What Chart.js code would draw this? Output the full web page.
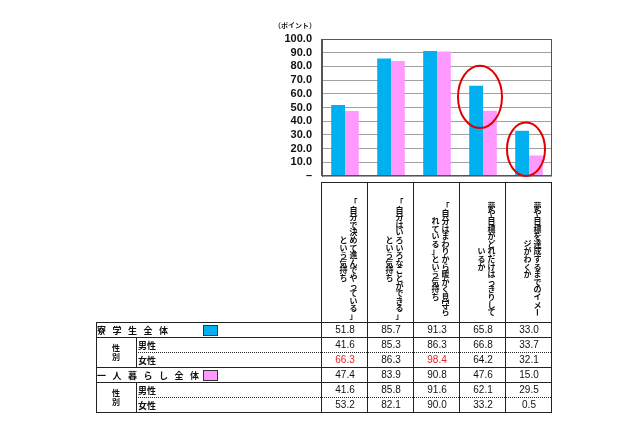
<!DOCTYPE html>
<html lang="ja">
<head>
<meta charset="utf-8">
<script src="https://cdn.jsdelivr.net/npm/chart.js@4.4.1/dist/chart.umd.min.js"></script>
<style>
  html, body { margin: 0; padding: 0; background: #fff; }
  canvas { display: block; }
</style>
</head>
<body>
<canvas id="chart" width="640" height="426"></canvas>
<script>
// header text of each category, split as in the table (right column first)
const categoryLines = [
  ['「自分で決めて進んでやっている」', 'という気持ち'],
  ['「自分はいろいろなことができる」', 'という気持ち'],
  ['「自分はまわりから暖かく見守ら', 'れている」という気持ち'],
  ['夢や目標がどれだけはっきりして', 'いるか'],
  ['夢や目標を達成するまでのイメー', 'ジがわくか']
];
const categories = categoryLines.map(l => l.join(''));

const dormAll = [51.8, 85.7, 91.3, 65.8, 33.0];
const dormMale = [41.6, 85.3, 86.3, 66.8, 33.7];
const dormFemale = [66.3, 86.3, 98.4, 64.2, 32.1];
const dormFemaleRed = [0, 2];
const aloneAll = [47.4, 83.9, 90.8, 47.6, 15.0];
const aloneMale = [41.6, 85.8, 91.6, 62.1, 29.5];
const aloneFemale = [53.2, 82.1, 90.0, 33.2, 0.5];

const yTicks = [0, 10, 20, 30, 40, 50, 60, 70, 80, 90, 100];

const JP = '"Noto Sans CJK JP", sans-serif';
const NUM = '"Liberation Sans", Arial, sans-serif';

function drawVertical(ctx, text, x, cy, step) {
  const chars = [...text];
  let y = cy - (chars.length - 1) * step / 2;
  for (const ch of chars) {
    ctx.save();
    ctx.translate(x, y);
    if (ch === 'ー') ctx.rotate(Math.PI / 2);
    ctx.fillText(ch, 0, 0);
    ctx.restore();
    y += step;
  }
}

function hline(ctx, x1, x2, y, dotted) {
  ctx.save();
  if (dotted) ctx.setLineDash([1, 1]);
  ctx.beginPath();
  ctx.moveTo(x1, y + 0.5);
  ctx.lineTo(x2, y + 0.5);
  ctx.stroke();
  ctx.restore();
}
function vline(ctx, x, y1, y2) {
  ctx.beginPath();
  ctx.moveTo(x + 0.5, y1);
  ctx.lineTo(x + 0.5, y2);
  ctx.stroke();
}

const tablePlugin = {
  id: 'table',
  afterDraw(chart) {
    const ctx = chart.ctx;
    const xs = chart.scales.x, ys = chart.scales.y;
    const area = chart.chartArea;
    const n = categories.length;
    const cw = (area.right - area.left) / n;
    const colEdge = i => Math.round(area.left + i * cw) - 1;

    // plot frame
    ctx.save();
    ctx.strokeStyle = '#555';
    ctx.lineWidth = 1;
    ctx.strokeRect(Math.round(area.left) - 0.5, Math.round(area.top) + 0.5,
      Math.round(area.right - area.left), Math.round(area.bottom - area.top) - 1);
    ctx.restore();

    // red ellipses
    const marks = [
      { index: 3, from: 35, to: 80.5, dx: -3, rx: 22 },
      { index: 4, from: 0, to: 39, dx: -3, rx: 19 }
    ];
    ctx.save();
    ctx.strokeStyle = '#e00000';
    ctx.lineWidth = 2;
    marks.forEach(m => {
      const cx = xs.getPixelForValue(m.index) + m.dx;
      const y1 = ys.getPixelForValue(m.to), y2 = ys.getPixelForValue(m.from);
      ctx.beginPath();
      ctx.ellipse(cx, (y1 + y2) / 2, m.rx, (y2 - y1) / 2, 0, 0, Math.PI * 2);
      ctx.stroke();
    });
    ctx.restore();

    // table
    const headTop = Math.round(area.bottom) + 6;
    const rowTop = 322;
    const rowH = 15;
    const left = 96, sub = 136, right = colEdge(n);
    ctx.save();
    ctx.strokeStyle = '#222';
    ctx.lineWidth = 1;
    hline(ctx, colEdge(0), right, headTop);
    for (let i = 0; i <= n; i++) vline(ctx, colEdge(i), headTop, rowTop + 6 * rowH + 1);
    [0, 1, 3, 4, 6].forEach(r => hline(ctx, left, right, rowTop + r * rowH));
    [2, 5].forEach(r => hline(ctx, sub, right, rowTop + r * rowH, true));
    vline(ctx, left, rowTop, rowTop + 6 * rowH + 1);
    vline(ctx, sub, rowTop + rowH, rowTop + 3 * rowH);
    vline(ctx, sub, rowTop + 4 * rowH, rowTop + 6 * rowH);

    // vertical headers
    ctx.fillStyle = '#111';
    ctx.font = 'bold 8px ' + JP;
    ctx.textAlign = 'center';
    ctx.textBaseline = 'middle';
    const headMid = (headTop + rowTop) / 2 + 7;
    categoryLines.forEach((lines, i) => {
      const cx = xs.getPixelForValue(i);
      drawVertical(ctx, lines[0], cx + 8.5, headMid, 7.6);
      drawVertical(ctx, lines[1], cx - 1.5, headMid, 7.6);
    });

    // row labels
    const mid = r => rowTop + r * rowH + rowH / 2 + 1;
    ctx.textAlign = 'left';
    ctx.font = 'bold 9px ' + JP;
    [...'寮学生全体'].forEach((ch, k) => ctx.fillText(ch, 97 + k * 15.5, mid(0)));
    [...'一人暮らし全体'].forEach((ch, k) => ctx.fillText(ch, 97 + k * 15.5, mid(3)));
    [1, 4].forEach(r => {
      ctx.fillText('男性', sub + 2, mid(r));
      ctx.fillText('女性', sub + 2, mid(r + 1));
    });
    ctx.font = 'bold 8px ' + JP;
    ctx.textAlign = 'center';
    [1, 4].forEach(r => {
      ctx.fillText('性', 116, rowTop + r * rowH + 11);
      ctx.fillText('別', 116, rowTop + r * rowH + 20);
    });

    // legend swatches
    chart.data.datasets.forEach((ds, k) => {
      const y = rowTop + (k === 0 ? 0 : 3) * rowH + 3.5;
      ctx.fillStyle = ds.backgroundColor;
      ctx.fillRect(203.5, y, 14, 10);
      ctx.strokeStyle = '#333';
      ctx.strokeRect(203.5, y, 14, 10);
    });

    // values
    const rows = [dormAll, dormMale, dormFemale, aloneAll, aloneMale, aloneFemale];
    ctx.font = '10px ' + NUM;
    rows.forEach((vals, r) => {
      vals.forEach((v, i) => {
        ctx.fillStyle = (r === 2 && dormFemaleRed.includes(i)) ? '#e8202a' : '#111';
        ctx.fillText(v.toFixed(1), xs.getPixelForValue(i), mid(r));
      });
    });
    ctx.restore();
  }
};

const unitPlugin = {
  id: 'unit',
  afterDraw(chart) {
    const ctx = chart.ctx;
    ctx.save();
    ctx.fillStyle = '#111';
    ctx.font = 'bold 7px ' + JP;
    ctx.textAlign = 'right';
    ctx.textBaseline = 'middle';
    ctx.fillText('（ポイント）', chart.chartArea.left - 6, chart.chartArea.top - 14);
    ctx.restore();
  }
};

new Chart(document.getElementById('chart'), {
  type: 'bar',
  data: {
    labels: categories,
    datasets: [
      { label: '寮学生全体', data: dormAll, backgroundColor: '#00b0f0' },
      { label: '一人暮らし全体', data: aloneAll, backgroundColor: '#ff99ff' }
    ]
  },
  options: {
    responsive: false,
    animation: false,
    devicePixelRatio: 1,
    layout: { padding: { left: 0, right: 88, top: 39, bottom: 250 } },
    datasets: { bar: { barPercentage: 1, categoryPercentage: 0.6 } },
    plugins: { legend: { display: false }, tooltip: { enabled: false } },
    scales: {
      x: { display: false },
      y: {
        min: 0,
        max: 100,
        afterFit: s => { s.width = 322; },
        afterBuildTicks: s => { s.ticks = yTicks.map(v => ({ value: v })); },
        grid: { color: '#a0a0a0', drawTicks: false },
        border: { color: '#555' },
        ticks: {
          autoSkip: false,
          padding: 10,
          color: '#111',
          font: { family: NUM, size: 11, weight: 'bold' },
          callback: v => v === 0 ? '–' : v.toFixed(1)
        }
      }
    }
  },
  plugins: [tablePlugin, unitPlugin]
});
</script>
</body>
</html>
